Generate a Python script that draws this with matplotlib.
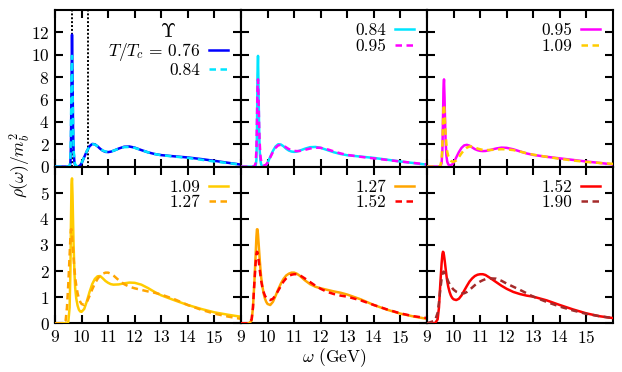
import matplotlib
matplotlib.use("Agg")
import matplotlib.pyplot as plt

plt.rcParams.update({
    "font.family": "serif",
    "font.serif": ["cmr10", "DejaVu Serif"],
    "mathtext.fontset": "cm",
    "axes.formatter.use_mathtext": True,
    "axes.linewidth": 1.5,
})

# ---------------- data ----------------
omega = [9.0, 9.3, 9.4, 9.45, 9.5, 9.55, 9.58, 9.6, 9.62, 9.64, 9.66, 9.68, 9.7,
         9.73, 9.76, 9.8, 9.85, 9.9, 9.95, 10.0, 10.1, 10.2, 10.3, 10.4, 10.5,
         10.6, 10.7, 10.8, 10.9, 11.0, 11.1, 11.2, 11.4, 11.6, 11.8, 12.0, 12.25,
         12.5, 12.75, 13.0, 13.5, 14.0, 14.5, 15.0, 15.5, 16.0]

rho_076 = [0, 0, 0, 0, 0, 0, 0.3, 2.0, 7.0, 11.8, 8.0, 3.5, 1.4,
           0.4, 0.12, 0.04, 0.02, 0.04, 0.12, 0.3, 0.85, 1.4, 1.82, 2.03, 2.0,
           1.82, 1.6, 1.42, 1.32, 1.3, 1.34, 1.42, 1.62, 1.78, 1.8, 1.7, 1.48,
           1.28, 1.13, 1.03, 0.92, 0.82, 0.68, 0.52, 0.35, 0.18]

rho_084 = [0, 0, 0, 0, 0, 0.05, 0.6, 3.0, 8.2, 9.9, 7.0, 3.6, 1.6,
           0.55, 0.18, 0.06, 0.04, 0.07, 0.16, 0.34, 0.88, 1.4, 1.8, 2.0, 1.98,
           1.82, 1.6, 1.44, 1.35, 1.32, 1.35, 1.42, 1.6, 1.74, 1.76, 1.68, 1.48,
           1.28, 1.13, 1.02, 0.9, 0.78, 0.62, 0.46, 0.32, 0.18]

rho_095 = [0, 0, 0, 0, 0.02, 0.3, 1.5, 4.0, 7.0, 7.8, 6.2, 4.0, 2.3,
           1.0, 0.45, 0.2, 0.12, 0.12, 0.2, 0.35, 0.82, 1.3, 1.68, 1.9, 1.95,
           1.88, 1.72, 1.57, 1.47, 1.41, 1.39, 1.4, 1.5, 1.62, 1.7, 1.68, 1.55,
           1.36, 1.18, 1.05, 0.88, 0.74, 0.6, 0.46, 0.33, 0.2]

rho_109 = [0, 0, 0, 0, 0.05, 0.6, 2.0, 3.8, 5.3, 5.55, 4.9, 3.9, 3.0,
           2.0, 1.35, 0.95, 0.68, 0.52, 0.45, 0.44, 0.55, 0.85, 1.2, 1.5, 1.7,
           1.8, 1.81, 1.72, 1.62, 1.55, 1.5, 1.48, 1.49, 1.53, 1.56, 1.55, 1.48,
           1.35, 1.2, 1.07, 0.88, 0.7, 0.55, 0.42, 0.33, 0.25]

rho_127 = [0, 0, 0.1, 0.6, 1.5, 2.6, 3.3, 3.6, 3.6, 3.4, 3.1, 2.8, 2.5,
           2.1, 1.75, 1.45, 1.15, 0.95, 0.82, 0.74, 0.7, 0.82, 1.05, 1.3, 1.52,
           1.7, 1.83, 1.9, 1.94, 1.94, 1.9, 1.83, 1.65, 1.5, 1.4, 1.34, 1.28,
           1.22, 1.17, 1.1, 0.92, 0.7, 0.52, 0.37, 0.26, 0.17]

rho_152 = [0, 0, 0.15, 0.6, 1.5, 2.3, 2.65, 2.74, 2.72, 2.6, 2.45, 2.28, 2.1,
           1.85, 1.62, 1.4, 1.2, 1.06, 0.97, 0.92, 0.89, 0.94, 1.07, 1.25, 1.43,
           1.6, 1.72, 1.81, 1.86, 1.88, 1.88, 1.85, 1.72, 1.58, 1.44, 1.32, 1.2,
           1.12, 1.06, 1.02, 0.88, 0.7, 0.53, 0.38, 0.27, 0.2]

rho_190 = [0, 0.1, 0.4, 0.8, 1.3, 1.7, 1.88, 1.95, 1.98, 1.97, 1.94, 1.9, 1.85,
           1.78, 1.7, 1.6, 1.5, 1.42, 1.35, 1.29, 1.21, 1.17, 1.15, 1.15, 1.2,
           1.28, 1.37, 1.46, 1.54, 1.6, 1.65, 1.69, 1.72, 1.71, 1.63, 1.52, 1.4,
           1.28, 1.15, 1.02, 0.82, 0.64, 0.49, 0.36, 0.27, 0.2]

temps = ["0.76", "0.84", "0.95", "1.09", "1.27", "1.52", "1.90"]
rhos = [rho_076, rho_084, rho_095, rho_109, rho_127, rho_152, rho_190]
colors = ["#0000ff", "#00e5ff", "#ff00ff", "#ffcc00", "#ffa500", "#ff0000", "#a52a2a"]

# pairs shown in each panel (solid, dashed)
panel_pairs = [(0, 1), (1, 2), (2, 3), (3, 4), (4, 5), (5, 6)]
threshold_lines = [9.65, 10.25]

xticks = [9, 10, 11, 12, 13, 14, 15]
yticks_top = [0, 2, 4, 6, 8, 10, 12]
yticks_bot = [0, 1, 2, 3, 4, 5]

FS = 12.5

# ---------------- figure ----------------
fig, axes = plt.subplots(2, 3, figsize=(6.22, 3.72), dpi=100)
fig.subplots_adjust(left=55/622, right=613/622, top=1-10/372,
                    bottom=1-323.3/372, hspace=0, wspace=0)

dash = (0, (2.6, 1.8))
for k, ax in enumerate(axes.flat):
    i, j = panel_pairs[k]
    l1, = ax.plot(omega, rhos[i], color=colors[i], lw=1.8, ls="-", zorder=3)
    l2, = ax.plot(omega, rhos[j], color=colors[j], lw=1.8, ls=dash, zorder=4)
    ax.set_xlim(9, 16)
    ax.set_xticks(xticks)
    row, col = divmod(k, 3)
    if row == 0:
        ax.set_ylim(0, 14)
        ax.set_yticks(yticks_top)
        ax.tick_params(labelbottom=False)
    else:
        ax.set_ylim(0, 6)
        ax.set_yticks(yticks_bot)
    if col != 0:
        ax.tick_params(labelleft=False)
    ax.tick_params(direction="in", length=6, width=1.5, top=True, right=True,
                   labelsize=FS, pad=4)
    lab1 = temps[i]
    if k == 0:
        lab1 = r"$T/T_c\,=\,0.76$"
        for xv in threshold_lines:
            ax.axvline(xv, color="black", ls=(0, (1, 1)), lw=1.4, zorder=2)
    ax.legend([l1, l2], [lab1, temps[j]], loc="upper right",
              markerfirst=False, frameon=False, fontsize=FS,
              handlelength=1.1, handletextpad=0.5, labelspacing=0.0,
              borderaxespad=0.45, borderpad=0.3,
              title=(r"$\Upsilon$" if k == 0 else None),
              title_fontsize=14)

fig.text(20/622, 1-165/372, r"$\rho(\omega)/m_b^2$", rotation=90,
         ha="center", va="center", fontsize=FS)
fig.text(334/622, 1-358/372, r"$\omega$ (GeV)", ha="center", va="center",
         fontsize=FS)

fig.savefig("out.png", dpi=100)
